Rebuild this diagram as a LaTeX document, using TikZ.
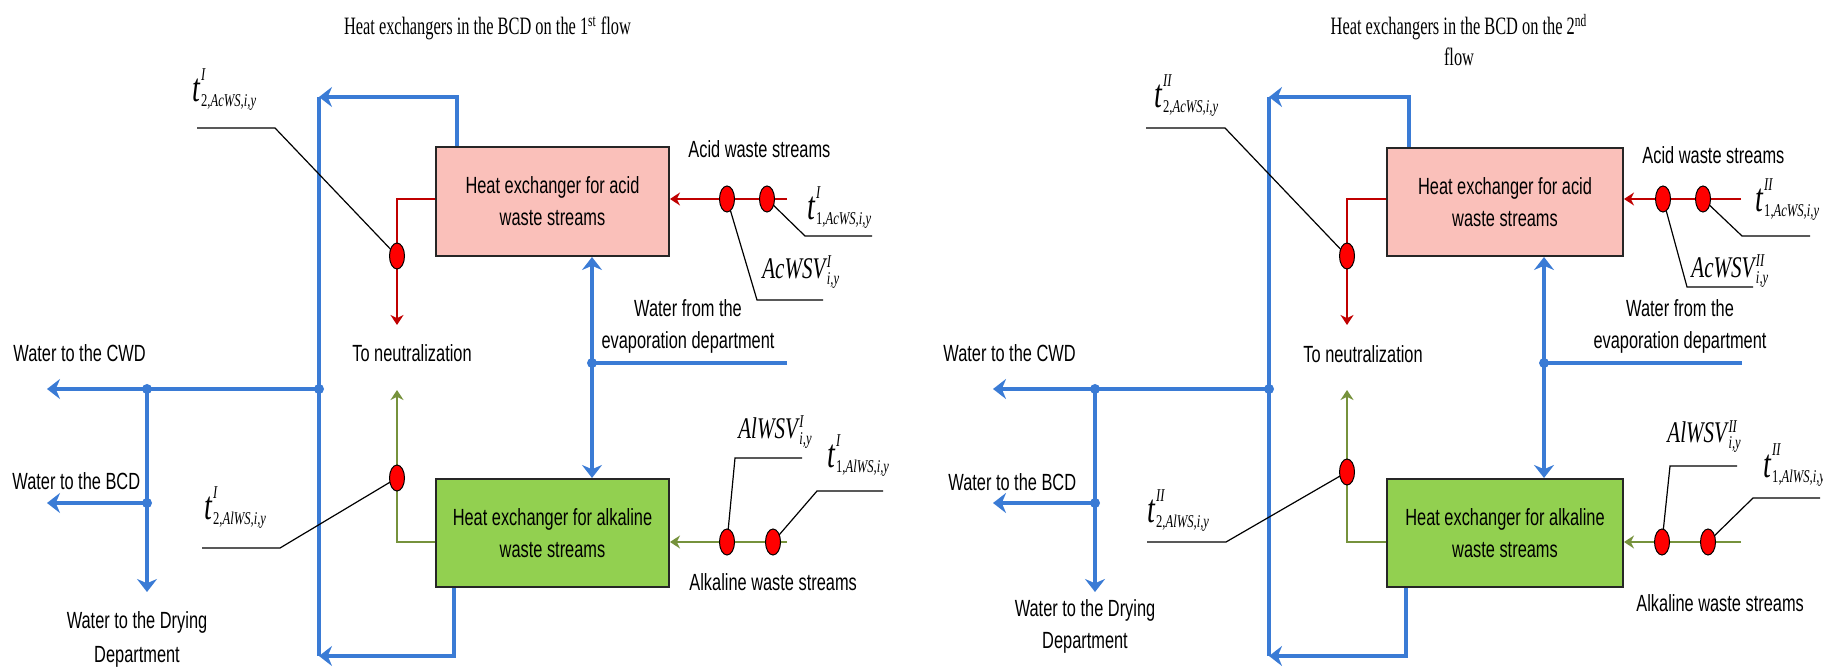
\documentclass[tikz,border=0pt]{standalone}
\usepackage{fontspec}
\setmainfont{Liberation Serif}[FakeStretch=0.70]
\newfontfamily\titlefont{Liberation Serif}[FakeStretch=0.655]
\newfontfamily\sansN{Liberation Sans}[FakeStretch=0.70]
\usetikzlibrary{arrows.meta,shapes.geometric}
\pgfdeclarelayer{bg}
\pgfsetlayers{bg,main}
\definecolor{bluec}{HTML}{3A7BD5}
\definecolor{redc}{HTML}{C00000}
\definecolor{ovalred}{HTML}{FF0000}
\definecolor{pinkc}{HTML}{FAC0BA}
\definecolor{greenc}{HTML}{92D050}
\definecolor{olivec}{HTML}{76923C}
\definecolor{boxborder}{HTML}{262626}
% t^{sup}_{num,sub}
\newcommand{\tlab}[3]{{\fontsize{20}{20}\selectfont\itshape t}\kern0.5pt%
  \makebox[0pt][l]{\raisebox{10.5pt}{\fontsize{9}{9}\selectfont\itshape #1}}%
  \raisebox{-2.5pt}{\fontsize{9}{9}\selectfont #2,\itshape #3}}
% NAME^{sup}_{sub}
\newcommand{\vlab}[3]{{\fontsize{15}{15}\selectfont\itshape #1}\kern0.8pt%
  \makebox[0pt][l]{\raisebox{5.5pt}{\fontsize{9}{9}\selectfont\itshape #2}}%
  \raisebox{-3pt}{\fontsize{9}{9}\selectfont\itshape #3}}
\begin{document}
\begin{tikzpicture}[x=0.5pt,y=-0.5pt,
  bl/.style={draw=bluec, line width=2pt},
  blarrow/.style={bl, -{Stealth[length=6.5pt,width=10pt]}},
  rd/.style={draw=redc, line width=1pt, -{Stealth[length=5pt,width=6.5pt]}},
  ol/.style={draw=olivec, line width=1pt, -{Stealth[length=5pt,width=6.5pt]}},
  leader/.style={draw=black, line width=0.6pt},
  oval/.style={ellipse, draw=black, line width=0.5pt, fill=ovalred, minimum width=7.5pt, minimum height=13pt, inner sep=0pt},
  jdot/.style={circle, fill=bluec, minimum size=5pt, inner sep=0pt},
  hx/.style={rectangle, draw=boxborder, line width=1pt, align=center, inner sep=0pt,
     font=\sansN\fontsize{11.7}{16}\selectfont},
  txt/.style={font=\sansN\fontsize{11.7}{16}\selectfont, inner sep=0pt},
  mlab/.style={font=\rmfamily, inner sep=0pt, anchor=base west},
  ttl/.style={font=\titlefont\fontsize{12.5}{15.5}\selectfont, inner sep=0pt, anchor=base}
]
\useasboundingbox (0,0) rectangle (1823,667);

% ================= LEFT DIAGRAM =================
\node[ttl] (L-title) at (487.5,35) {Heat exchangers in the BCD on the 1\textsuperscript{st} flow};
\node[hx, fill=pinkc, minimum width=116.5pt, minimum height=54.5pt] (L-acid) at (552.5,201.5) {Heat exchanger for acid\\waste streams};
\node[hx, fill=greenc, minimum width=116.5pt, minimum height=54pt] (L-alk) at (552.5,533) {Heat exchanger for alkaline\\waste streams};

\coordinate (L-vt) at (319,97);
\coordinate (L-vb) at (319,656);
\node[jdot] (L-j1) at (319,389) {};
\node[jdot] (L-j2) at (147,389) {};
\node[jdot] (L-j3) at (147,503) {};
\node[jdot] (L-j4) at (592,363) {};
\coordinate (L-cwd) at (47,389);
\coordinate (L-bcd) at (47,503);
\coordinate (L-dry) at (147,592);
\coordinate (L-evap) at (787,363);
\coordinate (L-rin) at (787,199);
\coordinate (L-gin) at (787,542);
\coordinate (L-neut) at (397,325);
\coordinate (L-nup) at (397,390);
\node[oval] (L-oa) at (397,256) {};
\node[oval] (L-ob) at (397,478) {};
\node[oval] (L-oc) at (727,199) {};
\node[oval] (L-od) at (767,199) {};
\node[oval] (L-oe) at (727,542) {};
\node[oval] (L-of) at (773,542) {};
\coordinate (L-k1) at (275,128);  \coordinate (L-k2) at (197,128);
\coordinate (L-k3) at (757,300);  \coordinate (L-k4) at (823,300);
\coordinate (L-k5) at (805,236);  \coordinate (L-k6) at (872,236);
\coordinate (L-k7) at (280,548);  \coordinate (L-k8) at (202,548);
\coordinate (L-k9) at (735,458);  \coordinate (L-k10) at (802,458);
\coordinate (L-k11) at (817,491); \coordinate (L-k12) at (883,491);

\node[txt, anchor=base west] (L-tcwd) at (13,362) {Water to the CWD};
\node[txt, anchor=base west] (L-tbcd) at (12,489) {Water to the BCD};
\node[txt, anchor=base] (L-tdry1) at (137,628) {Water to the Drying};
\node[txt, anchor=base] (L-tdry2) at (137,662) {Department};
\node[txt, anchor=base west] (L-tneut) at (352,362) {To neutralization};
\node[txt, anchor=base west] (L-tacid) at (688,158) {Acid waste streams};
\node[txt, anchor=base] (L-tev1) at (688,317) {Water from the};
\node[txt, anchor=base] (L-tev2) at (688,349) {evaporation department};
\node[txt, anchor=base west] (L-talk) at (689,590) {Alkaline waste streams};

\node[mlab] (L-m1) at (192,102) {\tlab{I}{2}{AcWS,i,y}};
\node[mlab] (L-m2) at (762,279) {\vlab{AcWSV}{I}{i,y}};
\node[mlab] (L-m3) at (807,220) {\tlab{I}{1}{AcWS,i,y}};
\node[mlab] (L-m4) at (204,519) {\tlab{I}{2}{AlWS,i,y}};
\node[mlab] (L-m5) at (738,438) {\vlab{AlWSV}{I}{i,y}};
\node[mlab] (L-m6) at (827,467) {\tlab{I}{1}{AlWS,i,y}};

% ================= RIGHT DIAGRAM =================
\node[ttl] (R-title1) at (1459,35) {Heat exchangers in the BCD on the 2\textsuperscript{nd}};
\node[ttl] (R-title2) at (1459,66) {flow};
\node[hx, fill=pinkc, minimum width=118pt, minimum height=54pt] (R-acid) at (1505,202) {Heat exchanger for acid\\waste streams};
\node[hx, fill=greenc, minimum width=118pt, minimum height=54pt] (R-alk) at (1505,533) {Heat exchanger for alkaline\\waste streams};

\coordinate (R-vt) at (1269,97);
\coordinate (R-vb) at (1269,656);
\node[jdot] (R-j1) at (1269,389) {};
\node[jdot] (R-j2) at (1095,389) {};
\node[jdot] (R-j3) at (1095,503) {};
\node[jdot] (R-j4) at (1544,363) {};
\coordinate (R-cwd) at (993,389);
\coordinate (R-bcd) at (993,503);
\coordinate (R-dry) at (1095,592);
\coordinate (R-evap) at (1742,363);
\coordinate (R-rin) at (1741,199);
\coordinate (R-gin) at (1741,542);
\coordinate (R-neut) at (1347,325);
\coordinate (R-nup) at (1347,390);
\node[oval] (R-oa) at (1347,256) {};
\node[oval] (R-ob) at (1347,472) {};
\node[oval] (R-oc) at (1663,199) {};
\node[oval] (R-od) at (1703,199) {};
\node[oval] (R-oe) at (1662,542) {};
\node[oval] (R-of) at (1708,542) {};
\coordinate (R-k1) at (1225,128);  \coordinate (R-k2) at (1146,128);
\coordinate (R-k3) at (1687,287);  \coordinate (R-k4) at (1753,287);
\coordinate (R-k5) at (1742,236);  \coordinate (R-k6) at (1810,236);
\coordinate (R-k7) at (1226,542);  \coordinate (R-k8) at (1147,542);
\coordinate (R-k9) at (1670,466);  \coordinate (R-k10) at (1737,466);
\coordinate (R-k11) at (1753,498); \coordinate (R-k12) at (1820,498);

\node[txt, anchor=base west] (R-tcwd) at (943,362) {Water to the CWD};
\node[txt, anchor=base west] (R-tbcd) at (948,490) {Water to the BCD};
\node[txt, anchor=base] (R-tdry1) at (1085,616) {Water to the Drying};
\node[txt, anchor=base] (R-tdry2) at (1085,648) {Department};
\node[txt, anchor=base west] (R-tneut) at (1303,363) {To neutralization};
\node[txt, anchor=base west] (R-tacid) at (1642,164) {Acid waste streams};
\node[txt, anchor=base] (R-tev1) at (1680,317) {Water from the};
\node[txt, anchor=base] (R-tev2) at (1680,349) {evaporation department};
\node[txt, anchor=base west] (R-talk) at (1636,611) {Alkaline waste streams};

\node[mlab] (R-m1) at (1154,108) {\tlab{II}{2}{AcWS,i,y}};
\node[mlab] (R-m2) at (1691,278) {\vlab{AcWSV}{II}{i,y}};
\node[mlab] (R-m3) at (1755,212) {\tlab{II}{1}{AcWS,i,y}};
\node[mlab] (R-m4) at (1147,522) {\tlab{II}{2}{AlWS,i,y}};
\node[mlab] (R-m5) at (1667,443) {\vlab{AlWSV}{II}{i,y}};
\node[mlab] (R-m6) at (1763,477) {\tlab{II}{1}{AlWS,i,y}};

% ================= CONNECTORS =================
\begin{pgfonlayer}{bg}
\foreach \p/\tx/\bx in {L/11pt/9.5pt, R/11.5pt/10pt} {
  \draw[bl] (\p-vt) -- (\p-vb);
  \draw[blarrow] ([xshift=\tx]\p-acid.north west) |- (\p-vt);
  \draw[blarrow] ([xshift=\bx]\p-alk.south west) |- (\p-vb);
  \draw[blarrow] (\p-j1.center) -- (\p-cwd);
  \draw[blarrow] (\p-j2.center) -- (\p-dry);
  \draw[blarrow] (\p-j3.center) -- (\p-bcd);
  \draw[bl] (\p-evap) -- (\p-j4.center);
  \draw[blarrow] (\p-j4.center) -- (\p-j4 |- \p-acid.south);
  \draw[blarrow] (\p-j4.center) -- (\p-j4 |- \p-alk.north);
  \draw[rd] (\p-rin) -- (\p-acid.east |- \p-rin);
  \draw[rd] (\p-acid.west |- \p-rin) -| (\p-oa.center) -- (\p-neut);
  \draw[ol] (\p-gin) -- (\p-alk.east |- \p-gin);
  \draw[ol] (\p-alk.west |- \p-gin) -| (\p-ob.center) -- (\p-nup);
  \draw[leader] (\p-oa.center) -- (\p-k1) -- (\p-k2);
  \draw[leader] (\p-oc.center) -- (\p-k3) -- (\p-k4);
  \draw[leader] (\p-od.center) -- (\p-k5) -- (\p-k6);
  \draw[leader] (\p-ob.center) -- (\p-k7) -- (\p-k8);
  \draw[leader] (\p-oe.center) -- (\p-k9) -- (\p-k10);
  \draw[leader] (\p-of.center) -- (\p-k11) -- (\p-k12);
}
\end{pgfonlayer}
\end{tikzpicture}
\end{document}
